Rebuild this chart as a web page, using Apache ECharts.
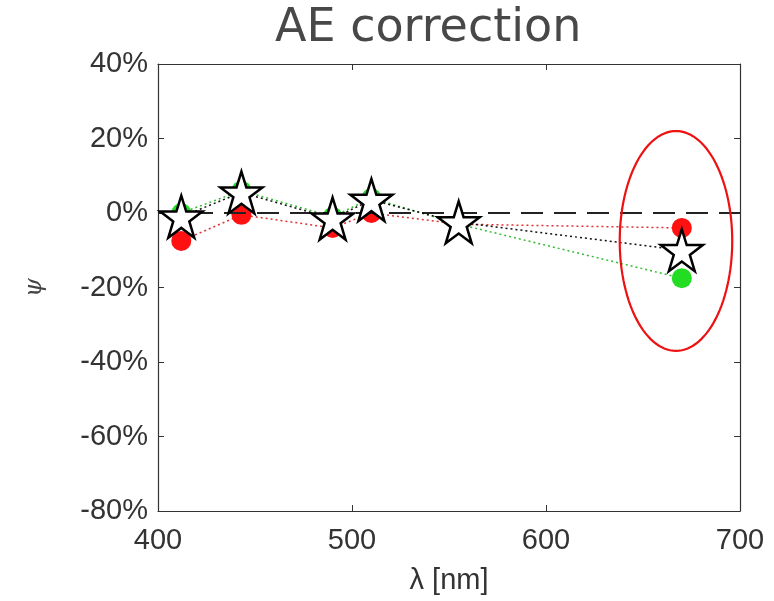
<!DOCTYPE html>
<html><head><meta charset="utf-8">
<script src="https://cdn.jsdelivr.net/npm/echarts@6/dist/echarts.min.js"></script>
<style>html,body{margin:0;padding:0;background:#fff}#c{width:774px;height:601px}</style>
</head><body><div id="c"></div>
<script>
const wavelengths = [412, 443, 490, 510, 555, 670];
const starVals = [-1, 5.5, -1.5, 3.5, -2.5, -10];
const redVals = [-7.5, -0.5, -4, 0, -3, -4];
const greenVals = [0, 6, -1, 4, -3, -17.5];
const xTicks = [400, 500, 600, 700];
const yTicks = [-80, -60, -40, -20, 0, 20, 40];
// annotation ellipse in data units: center x, center y, half-width (nm), half-height (%)
const ellipseAnno = [667, -7.5, 29, 29.5];

const STAR = 'path://M50,2 L61,36 L97,36 L68,57 L79,92 L50,71 L21,92 L32,57 L3,36 L39,36 Z';
const pairs = v => wavelengths.map((x, i) => [x, v[i]]);
const font = 'Liberation Sans, Arial, sans-serif';

const chart = echarts.init(document.getElementById('c'), null, {renderer: 'canvas'});
const axisCommon = {
  axisLine: {show: true, onZero: false, lineStyle: {color: '#333', width: 1.2}},
  axisTick: {show: true, inside: true, length: 6, lineStyle: {color: '#333'}},
  splitLine: {show: false}
};
chart.setOption({
  animation: false,
  backgroundColor: '#fff',
  title: {
    text: 'AE correction', left: 270, top: 1,
    textStyle: {fontFamily: 'DejaVu Sans', fontSize: 46, fontWeight: 'normal', color: '#484848'}
  },
  grid: {left: 158, right: 34, top: 64, bottom: 90},
  xAxis: [
    Object.assign({type: 'value', min: xTicks[0], max: xTicks[xTicks.length - 1], interval: 100,
      position: 'bottom',
      name: 'λ [nm]', nameLocation: 'middle', nameGap: 55,
      nameTextStyle: {fontFamily: font, fontSize: 29, color: '#333'},
      axisLabel: {fontFamily: font, fontSize: 29, color: '#333', margin: 15}}, axisCommon),
    Object.assign({type: 'value', min: xTicks[0], max: xTicks[xTicks.length - 1], interval: 100,
      position: 'top', axisLabel: {show: false}}, axisCommon)
  ],
  yAxis: [
    Object.assign({type: 'value', min: yTicks[0], max: yTicks[yTicks.length - 1], interval: 20,
      position: 'left',
      axisLabel: {fontFamily: font, fontSize: 29, color: '#333', margin: 10, formatter: '{value}%'}}, axisCommon),
    Object.assign({type: 'value', min: yTicks[0], max: yTicks[yTicks.length - 1], interval: 20,
      position: 'right', axisLabel: {show: false}}, axisCommon)
  ],
  series: [
    {
      type: 'line', data: pairs(greenVals), symbol: 'circle', symbolSize: 20, z: 3,
      itemStyle: {color: '#22dd22'},
      lineStyle: {color: '#33bb33', width: 1.5, type: [2, 3]},
      markLine: {
        silent: true, symbol: ['none', 'none'], label: {show: false},
        lineStyle: {color: '#222', width: 2, type: [22, 11]},
        data: [{yAxis: 0}]
      }
    },
    {
      type: 'line', data: pairs(redVals), symbol: 'circle', symbolSize: 20, z: 4,
      itemStyle: {color: '#ff1111'},
      lineStyle: {color: '#dd3333', width: 1.5, type: [2, 3]}
    },
    {
      type: 'line', data: pairs(starVals), symbol: STAR, symbolSize: 42, z: 5,
      itemStyle: {color: '#fff', borderColor: '#000', borderWidth: 2.5},
      lineStyle: {color: '#111', width: 1.5, type: [2, 3]}
    }
  ]
});

// y-axis name ψ (rotated) positioned at -20% level
const psiPos = chart.convertToPixel({xAxisIndex: 0, yAxisIndex: 0}, [400, -20]);
// annotation ellipse around the 670 nm point
const c = chart.convertToPixel({xAxisIndex: 0, yAxisIndex: 0}, [ellipseAnno[0], ellipseAnno[1]]);
const e = chart.convertToPixel({xAxisIndex: 0, yAxisIndex: 0}, [ellipseAnno[0] + ellipseAnno[2], ellipseAnno[1] + ellipseAnno[3]]);
const rx = Math.abs(e[0] - c[0]), ry = Math.abs(e[1] - c[1]);
const pts = [];
for (let i = 0; i <= 120; i++) {
  const t = i / 120 * Math.PI * 2;
  pts.push([c[0] + rx * Math.cos(t), c[1] + ry * Math.sin(t)]);
}
chart.setOption({
  graphic: [
    {type: 'polyline', shape: {points: pts}, z: 100,
     style: {stroke: '#ee1111', lineWidth: 2.2, fill: null}},
    {type: 'text', x: psiPos[0] - 123, y: psiPos[1], rotation: Math.PI / 2, z: 100,
     style: {text: 'ψ', font: 'italic 24px DejaVu Serif', fill: '#444', align: 'center', verticalAlign: 'middle'}}
  ]
});
</script></body></html>
